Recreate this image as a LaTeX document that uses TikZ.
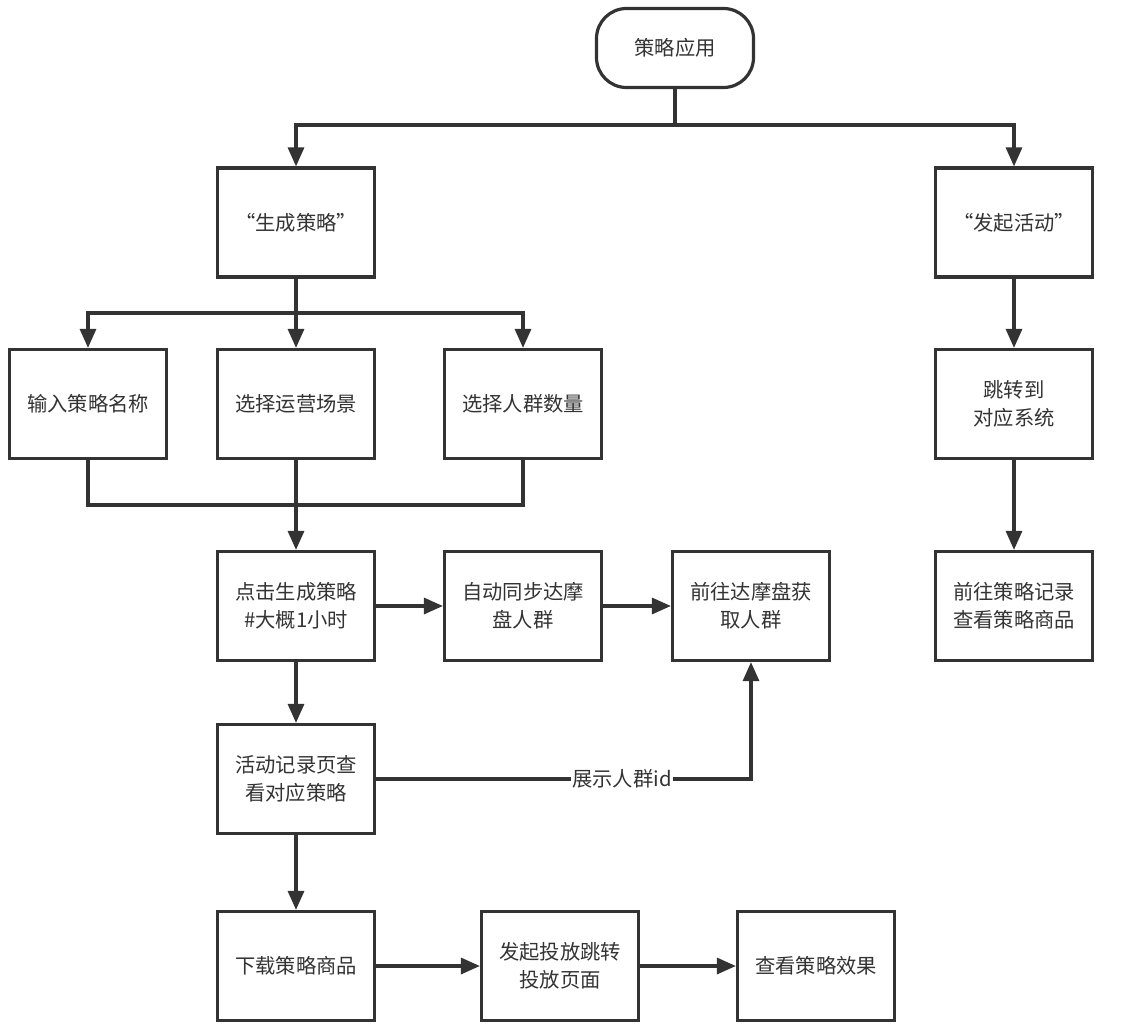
\documentclass[tikz,border=0pt]{standalone}
\usepackage{fontspec}
\setmainfont{Noto Sans CJK SC}
\usetikzlibrary{arrows.meta}
\definecolor{ink}{HTML}{333333}
\tikzset{
  box/.style={draw=ink, line width=3.2pt, minimum width=157pt, minimum height=109pt, align=center, text=ink, font=\fontsize{20.3pt}{28pt}\selectfont, inner sep=2pt},
  term/.style={box, minimum width=157pt, minimum height=79pt, rounded corners=30pt},
  conn/.style={draw=ink, line width=3.2pt},
  arr/.style={conn, -{Triangle[length=19pt,width=16pt]}},
  lbl/.style={fill=white, text=ink, font=\fontsize{20.3pt}{22pt}\selectfont, inner sep=1pt}
}
\begin{document}
\begin{tikzpicture}[x=1pt,y=-1pt]
\useasboundingbox[fill=white] (0,0) rectangle (1122,1032);
\node[term] (top) at (675,48) {策略应用};
\node[box] (sc) at (296,222.5) {“生成策略”};
\node[box] (fq) at (1014,222.5) {“发起活动”};
\node[box] (n1) at (88,404) {输入策略名称};
\node[box] (n2) at (296,404) {选择运营场景};
\node[box] (n3) at (523,404) {选择人群数量};
\node[box] (f2) at (1014,404) {跳转到\\对应系统};
\node[box] (c1) at (296,606) {点击生成策略\\\#大概1小时};
\node[box] (c2) at (523,606) {自动同步达摩\\盘人群};
\node[box] (c3) at (751,606) {前往达摩盘获\\取人群};
\node[box] (f3) at (1014,606) {前往策略记录\\查看策略商品};
\node[box] (r4) at (296,779) {活动记录页查\\看对应策略};
\node[box] (d1) at (296,966) {下载策略商品};
\node[box] (d2) at (560,966) {发起投放跳转\\投放页面};
\node[box] (d3) at (816,966) {查看策略效果};
\coordinate (j1) at (675,125);
\coordinate (j2) at (296,313);
\coordinate (j3) at (296,505);
\draw[conn] (top) -- (j1);
\draw[arr] (j1) -| (sc);
\draw[arr] (j1) -| (fq);
\draw[conn] (sc) -- (j2);
\draw[arr] (j2) -| (n1);
\draw[arr] (j2) -- (n2);
\draw[arr] (j2) -| (n3);
\draw[conn] (n1) |- (j3);
\draw[conn] (n3) |- (j3);
\draw[arr] (n2) -- (c1);
\draw[arr] (c1) -- (c2);
\draw[arr] (c2) -- (c3);
\draw[arr] (c1) -- (r4);
\draw[arr] (r4) -| (c3);
\node[lbl] (lab) at (622,779) {展示人群id};
\draw[arr] (r4) -- (d1);
\draw[arr] (d1) -- (d2);
\draw[arr] (d2) -- (d3);
\draw[arr] (fq) -- (f2);
\draw[arr] (f2) -- (f3);
\end{tikzpicture}
\end{document}
